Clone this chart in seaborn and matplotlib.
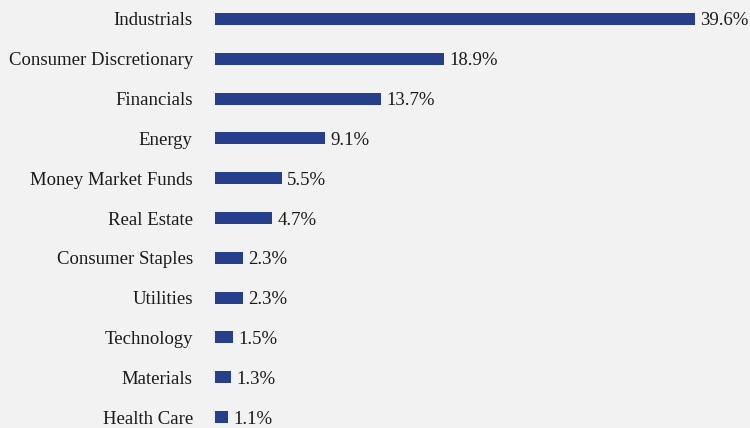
import matplotlib.pyplot as plt
import pandas as pd
import seaborn as sns

sectors = ["Industrials", "Consumer Discretionary", "Financials", "Energy",
           "Money Market Funds", "Real Estate", "Consumer Staples", "Utilities",
           "Technology", "Materials", "Health Care"]
weights = [39.6, 18.9, 13.7, 9.1, 5.5, 4.7, 2.3, 2.3, 1.5, 1.3, 1.1]

df = pd.DataFrame({"sector": sectors, "weight": weights})

bg = "#f2f2f2"
sns.set_style("white")
plt.rcParams["font.family"] = ["Liberation Serif", "DejaVu Serif"]

fig = plt.figure(figsize=(7.5, 4.28), dpi=100, facecolor=bg)
ax = fig.add_axes([215 / 750, 0, 535 / 750, 1])
ax.set_facecolor(bg)

sns.barplot(data=df, x="weight", y="sector", orient="h", color="#263f8c",
            width=0.3, saturation=1, linewidth=0, ax=ax)

texts = ax.bar_label(ax.containers[0], labels=[f"{v:.1f}%" for v in weights],
                     padding=4, fontsize=13.5, color="#1a1a1a")
for t in texts:
    t.set_verticalalignment("center_baseline")

ax.set_xlim(0, 535 / 12.12)
ax.set_ylim(10.276, -0.477)
ax.set_xlabel("")
ax.set_ylabel("")
ax.set_xticks([])
ax.tick_params(axis="y", length=0, pad=16, labelsize=13.5, labelcolor="#1a1a1a")
for lbl in ax.get_yticklabels():
    lbl.set_verticalalignment("center_baseline")
sns.despine(ax=ax, left=True, bottom=True)

fig.savefig("out.png", dpi=100, facecolor=bg)
